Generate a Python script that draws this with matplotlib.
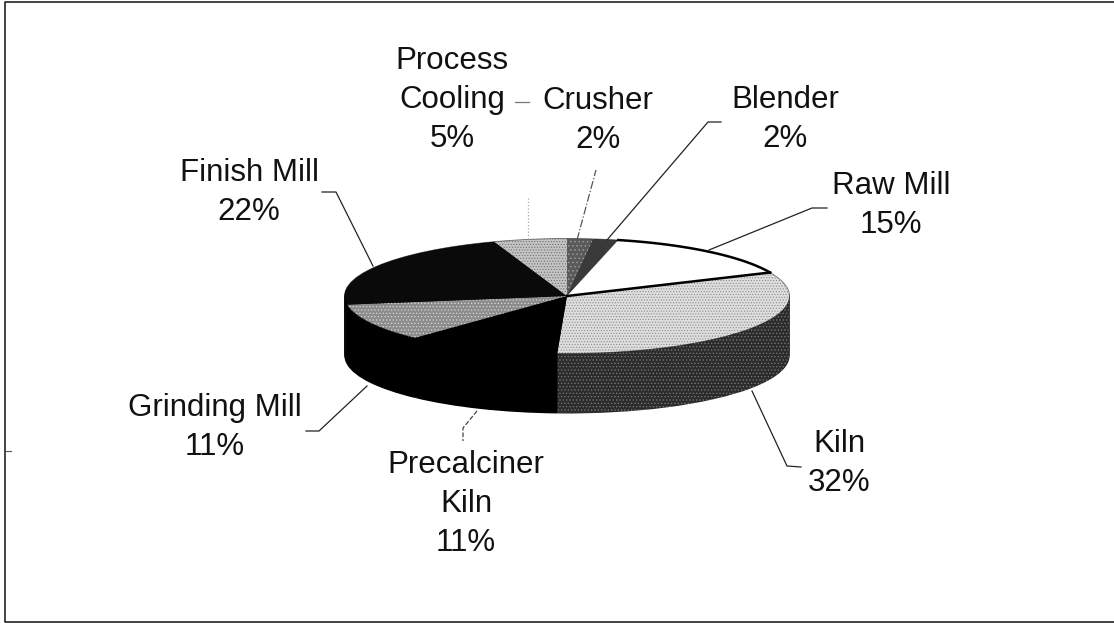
import matplotlib
matplotlib.use("Agg")
import matplotlib.pyplot as plt
import numpy as np

plt.rcParams['font.family'] = ['Liberation Sans', 'DejaVu Sans']
plt.rcParams['hatch.linewidth'] = 0.5

# Clockwise from the top of the pie; shares read from the slice boundaries
categories = ["Crusher", "Blender", "Raw Mill", "Kiln", "Precalciner\nKiln",
              "Grinding Mill", "Finish Mill", "Process\nCooling"]
shares = [1.9, 1.8, 14.6, 32.4, 11.3, 10.6, 22.1, 5.3]
top_colors = ["#5a5a5a", "#3a3a3a", "#ffffff", "#dedede", "#000000", "#8c8c8c", "#0a0a0a", "#c4c4c4"]
side_colors = ["#303030", "#202020", "#a0a0a0", "#2c2c2c", "#000000", "#000000", "#050505", "#707070"]
top_hatch = ["....", "", "", "......", "", ".....", "", "......"]
hatch_colors = ["#a0a0a0", "#000000", "#000000", "#8c8c8c", "#000000", "#d8d8d8", "#555555", "#707070"]

W, H = 1114, 623
cx, cy, rx, ry, depth = 567, 296, 222.5, 57.5, 60

fig = plt.figure(figsize=(W / 100, H / 100), dpi=100, facecolor="white")

ax = fig.add_axes([0, 0, 1, 1], zorder=1)
for d in np.arange(depth, 0, -1.0):
    w, _ = ax.pie(shares, colors=side_colors, startangle=90, counterclock=False,
                  center=(0, -d / ry), radius=1, wedgeprops=dict(linewidth=0))
    w[3].set_hatch(".....")
    w[3].set_edgecolor("#8a8a8a")
top, _ = ax.pie(shares, colors=top_colors, startangle=90, counterclock=False,
                center=(0, 0), radius=1, wedgeprops=dict(linewidth=0))
for wedge, h, hc in zip(top, top_hatch, hatch_colors):
    wedge.set_zorder(5)
    if h:
        wedge.set_hatch(h)
        wedge.set_edgecolor(hc)
        wedge.set_linewidth(0)

# Dark rim of the Raw Mill slice and the line along its lower edge
bounds = np.cumsum([0] + shares) / 100 * 2 * np.pi
t = np.linspace(bounds[2], bounds[3], 80)
ax.plot(np.sin(t), np.cos(t), color="black", lw=1.8, zorder=7)
ax.plot([0, np.sin(bounds[3])], [0, np.cos(bounds[3])], color="black", lw=1.8, zorder=7)
t = np.linspace(bounds[3], 2 * np.pi + bounds[2], 300)
ax.plot(np.sin(t), np.cos(t), color="black", lw=0.6, zorder=6, alpha=0.5)

ax.set_aspect("auto")
ax.set_xlim(-cx / rx, (W - cx) / rx)
ax.set_ylim((cy - H) / ry, cy / ry)
ax.axis("off")

# Overlay in pixel coordinates for frame, leaders and labels
ov = fig.add_axes([0, 0, 1, 1], zorder=2)
ov.set_xlim(0, W)
ov.set_ylim(H, 0)
ov.axis("off")
ov.patch.set_alpha(0)

ov.plot([1114, 5, 5, 1114], [2, 2, 621.5, 621.5], color="#222222", lw=1.2)
ov.plot([6, 11], [451, 451], color="#555555", lw=0.8)

leaders = [
    ([709, 812, 827], [250, 208, 208], "-", "#222222"),
    ([752, 787, 801], [391, 466, 467], "-", "#222222"),
    ([477, 463, 463], [411, 428, 441], "--", "#444444"),
    ([367, 319, 306], [386, 431, 431], "-", "#222222"),
    ([373, 336, 322], [266, 192, 192], "-", "#222222"),
    ([515, 529], [102, 102], "-", "#777777"),
    ([528, 528], [198, 240], ":", "#aaaaaa"),
    ([577, 596], [240, 170], "-.", "#555555"),
    ([607, 708, 721], [240, 122, 122], "-", "#222222"),
]
for xs, ys, ls, col in leaders:
    ov.plot(xs, ys, ls=ls, color=col, lw=0.9)

label_pos = {
    "Process\nCooling": (452, 100),
    "Crusher": (598, 120.5),
    "Blender": (785, 119.5),
    "Raw Mill": (891, 205.5),
    "Kiln": (839, 463.5),
    "Precalciner\nKiln": (466, 504),
    "Grinding Mill": (215, 427.5),
    "Finish Mill": (249, 192.5),
}
for name, share in zip(categories, shares):
    x, y = label_pos[name]
    ov.text(x, y, f"{name}\n{share:.0f}%", ha="center", va="center", fontsize=22.5,
            color="#111111", linespacing=1.41, multialignment="center")

fig.savefig("out.png", dpi=100, facecolor="white")
